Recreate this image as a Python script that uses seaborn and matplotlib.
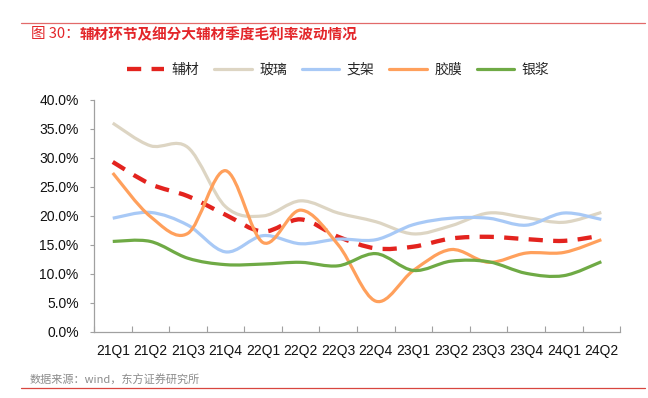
import numpy as np
import matplotlib
matplotlib.use("Agg")
import matplotlib.pyplot as plt
from matplotlib.path import Path
from matplotlib.patches import PathPatch
from matplotlib.lines import Line2D
from matplotlib.ticker import FixedLocator, FuncFormatter
import seaborn as sns

# data (gross margin, %)
quarters = ["21Q1", "21Q2", "21Q3", "21Q4", "22Q1", "22Q2", "22Q3",
            "22Q4", "23Q1", "23Q2", "23Q3", "23Q4", "24Q1", "24Q2"]
fucai = [29.3, 25.5, 23.4, 20.2, 17.3, 19.4, 16.4, 14.4, 14.7, 16.1, 16.4, 16.0, 15.7, 16.6]
boli = [36.0, 32.1, 31.8, 21.6, 20.0, 22.6, 20.5, 19.0, 16.9, 18.3, 20.5, 19.7, 18.9, 20.6]
zhijia = [19.6, 20.6, 18.4, 13.8, 16.6, 15.2, 16.0, 15.9, 18.5, 19.6, 19.6, 18.4, 20.5, 19.4]
jiaomo = [27.4, 19.9, 17.0, 27.8, 15.4, 21.0, 15.0, 5.3, 10.6, 14.2, 12.0, 13.6, 13.7, 15.9]
yinjiang = [15.6, 15.6, 12.7, 11.6, 11.7, 12.0, 11.4, 13.5, 10.6, 12.2, 12.1, 10.1, 9.7, 12.1]

series_names = ["辅材", "玻璃", "支架", "胶膜", "银浆"]
series_vals = [fucai, boli, zhijia, jiaomo, yinjiang]
colors = ["#E3231E", "#DDD5C3", "#A8C9F6", "#FFA05C", "#6FAA45"]

sns.set_theme(style="white")
plt.rcParams['font.family'] = ['Liberation Sans', 'Noto Sans CJK SC', 'DejaVu Sans']

RED = "#E3262A"
AXC = "#A0A0A0"


def smooth_path(pts):
    # excel-like smoothed line: cubic bezier through each point
    pts = np.asarray(pts, dtype=float)
    n = len(pts)
    verts = [pts[0]]
    codes = [Path.MOVETO]
    for i in range(n - 1):
        p0 = pts[i - 1] if i > 0 else pts[i]
        p1 = pts[i]
        p2 = pts[i + 1]
        p3 = pts[i + 2] if i + 2 < n else pts[i + 1]
        verts += [p1 + (p2 - p0) / 6, p2 - (p3 - p1) / 6, p2]
        codes += [Path.CURVE4] * 3
    return Path(verts, codes)


fig, ax = plt.subplots(figsize=(6.48, 3.98), dpi=100)
fig.subplots_adjust(left=0.145, right=0.957, bottom=0.166, top=0.749)

for name, vals, c in zip(series_names, series_vals, colors):
    if name == "辅材":
        sns.lineplot(x=quarters, y=vals, ax=ax, color=c, linewidth=3.1,
                     linestyle=(0, (3.3, 2.4)), label=name, sort=False)
    else:
        sns.lineplot(x=quarters, y=vals, ax=ax, color=c, linewidth=2.3,
                     label=name, sort=False)

ax.get_legend().remove()
handles, labels = ax.get_legend_handles_labels()
fig.legend(handles, labels, loc="center", bbox_to_anchor=(338 / 648, 1 - 70 / 398),
           ncol=5, frameon=False, handlelength=2.7,
           handletextpad=0.55, columnspacing=1.05,
           prop={'family': ['Noto Sans CJK SC'], 'size': 10})

# swap the straight seaborn lines for smoothed curves
for line in list(ax.lines):
    path = smooth_path(line.get_path().vertices)
    patch = PathPatch(path, fill=False, edgecolor=line.get_color(),
                      linewidth=line.get_linewidth(), linestyle=line.get_linestyle(),
                      capstyle="butt", joinstyle="round", zorder=line.get_zorder())
    if line.get_label() == "辅材":
        patch.set_linestyle((0, (3.3, 2.4)))
    ax.add_patch(patch)
    line.set_visible(False)

ax.set_xlim(-0.5, len(quarters) - 0.5)
ax.set_ylim(0, 40)
ax.set_xlabel("")
ax.set_ylabel("")
ax.yaxis.set_major_locator(FixedLocator(np.arange(0, 40.1, 5)))
ax.yaxis.set_major_formatter(FuncFormatter(lambda v, p: f"{v:.1f}%"))
ax.xaxis.set_minor_locator(FixedLocator(np.arange(-0.5, len(quarters), 1.0)))

sns.despine(ax=ax)
for s in ["left", "bottom"]:
    ax.spines[s].set_color(AXC)
    ax.spines[s].set_linewidth(0.9)
ax.tick_params(axis="x", which="major", length=0, pad=9, labelsize=10, colors="#111111")
ax.tick_params(axis="x", which="minor", direction="in", length=4, width=0.8, color=AXC)
ax.tick_params(axis="y", which="major", direction="out", length=3, width=0.8,
               color=AXC, pad=8, labelsize=10, labelcolor="#111111")
ax.tick_params(axis="y", left=True)
ax.tick_params(axis="x", which="minor", bottom=True)

# title and frame lines
fig.add_artist(Line2D([21 / 648, 645 / 648], [1 - 23 / 398] * 2, color="#E26A6A",
                      linewidth=0.9, transform=fig.transFigure))
fig.add_artist(Line2D([21 / 648, 645 / 648], [1 - 388 / 398] * 2, color="#D8463F",
                      linewidth=0.9, transform=fig.transFigure))

t1 = fig.text(31 / 648, 1 - 34 / 398, "图 30：", color=RED, fontsize=10.5,
              va="center", ha="left", family=['Noto Sans CJK SC'])
renderer = fig.canvas.get_renderer()
bb = t1.get_window_extent(renderer)
fig.text(bb.x1 / fig.bbox.width, 1 - 34 / 398, "辅材环节及细分大辅材季度毛利率波动情况",
         color=RED, fontsize=10.5, fontweight="bold", va="center", ha="left",
         family=['Noto Sans CJK SC'])

fig.text(30 / 648, 1 - 380 / 398, "数据来源：wind，东方证券研究所", color="#8C8C8C",
         fontsize=8, va="center", ha="left", family=['Noto Sans CJK SC'])

fig.savefig("out.png", dpi=100)
